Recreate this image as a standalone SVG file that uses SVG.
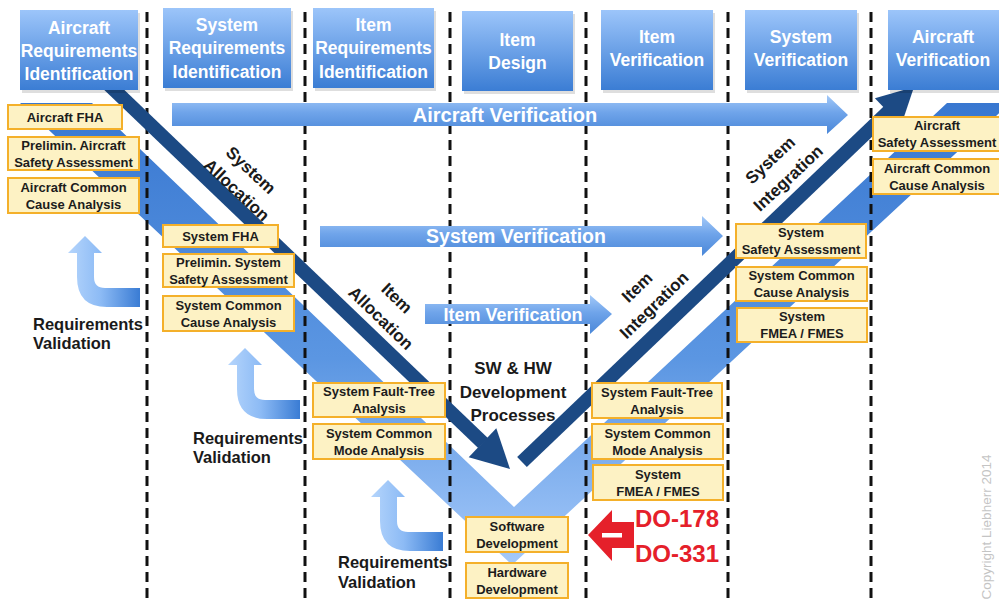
<svg xmlns="http://www.w3.org/2000/svg" width="999" height="601" viewBox="0 0 999 601">
<defs>
<style>
text{font-family:"Liberation Sans",Arial,sans-serif;font-weight:bold}
.hdr rect.b{fill:url(#gHdr)}
.hdr rect.s{fill:#000;opacity:.13}
.hdr text{fill:#fff;font-size:17.5px;text-anchor:middle}
.box rect{fill:#fdf2c4;stroke:#f4b02a;stroke-width:2}
.box text{fill:#1c1c1c;font-size:13px;text-anchor:middle}
.dash{stroke:#111;stroke-width:3;stroke-dasharray:10 6;fill:none}
.harr{fill:url(#gArr)}
.htxt{fill:#fff;text-anchor:middle}
.navy{stroke:#1c4a84;stroke-width:14;fill:none}
.navyh{fill:#1c4a84}
.lbl{fill:#1a1a1a;font-size:17px;text-anchor:middle}
.rv{fill:#1a1a1a;font-size:16.5px}
.red{fill:#e5202a}
</style>
<linearGradient id="gHdr" x1="0" y1="0" x2="0" y2="1"><stop offset="0" stop-color="#9cc5fa"/><stop offset="1" stop-color="#3b7dd4"/></linearGradient>
<linearGradient id="gBand" gradientUnits="userSpaceOnUse" x1="0" y1="100" x2="0" y2="570"><stop offset="0" stop-color="#3877d0"/><stop offset="0.55" stop-color="#5b96e2"/><stop offset="1" stop-color="#a6cafa"/></linearGradient>
<linearGradient id="gArr" x1="0" y1="0" x2="0" y2="1"><stop offset="0" stop-color="#a3c9f8"/><stop offset="0.45" stop-color="#6fa4ea"/><stop offset="1" stop-color="#4a87d8"/></linearGradient>
<linearGradient id="gCurve" x1="0" y1="0" x2="1" y2="0"><stop offset="0" stop-color="#b5d5fc"/><stop offset="0.45" stop-color="#8dbbf5"/><stop offset="1" stop-color="#3a7cd4"/></linearGradient>
<path id="curve" fill="url(#gCurve)" d="M0,0 L17,17 L9,17 L9,41 Q9,52 20,52 L55,52 L55,71 L22,71 Q-8,71 -8,41 L-8,17 L-17,17 Z"/>
</defs>

<rect width="999" height="601" fill="#fff"/>

<!-- V band -->
<path id="vband" fill="url(#gBand)" d="M20,103 L92,103 L514,507 L947,103 L1010,103 L512,565 Z"/>

<!-- phase separators -->
<g id="separators">
<line class="dash" x1="147" y1="12" x2="147" y2="601"/>
<line class="dash" x1="305" y1="12" x2="305" y2="601"/>
<line class="dash" x1="450" y1="12" x2="450" y2="601"/>
<line class="dash" x1="586" y1="12" x2="586" y2="601"/>
<line class="dash" x1="728" y1="12" x2="728" y2="601"/>
<line class="dash" x1="871" y1="12" x2="871" y2="601"/>
</g>

<g id="connectors">
<g id="aircraft-verification-arrow">
<path class="harr" d="M172,103 L827,103 L827,95 L848,115 L827,134 L827,126 L172,126 Z"/>
<text class="htxt" x="505" y="122" font-size="20">Aircraft Verification</text>
</g>
<g id="system-verification-arrow">
<path class="harr" d="M320,226 L702,226 L702,216 L723,236 L702,256 L702,247 L320,247 Z"/>
<text class="htxt" x="516" y="243" font-size="19.5">System Verification</text>
</g>
<g id="item-verification-arrow">
<path class="harr" d="M425,304 L590,304 L590,295 L612,314 L590,334 L590,324 L425,324 Z"/>
<text class="htxt" x="513" y="321" font-size="18">Item Verification</text>
</g>
<g id="system-allocation">
<line class="navy" x1="106" y1="82" x2="483" y2="443"/>
<polygon class="navyh" points="510,469 468.7,457.3 496.3,428.3"/>
</g>
<g id="system-integration">
<line class="navy" x1="522" y1="462" x2="889" y2="111"/>
<polygon class="navyh" points="914,87 901.1,125.6 874.9,98.2"/>
</g>
<use href="#curve" x="85" y="236"/>
<use href="#curve" x="245" y="348"/>
<use href="#curve" x="388" y="480"/>
</g>

<!-- arrow labels -->
<g id="labels">
<text class="lbl" transform="translate(251,170) rotate(43)" y="6">System</text>
<text class="lbl" transform="translate(237,190) rotate(43)" y="6">Allocation</text>
<text class="lbl" transform="translate(397,298) rotate(44)" y="6">Item</text>
<text class="lbl" transform="translate(381,318) rotate(44)" y="6">Allocation</text>
<text class="lbl" transform="translate(637,287) rotate(-44)" y="6">Item</text>
<text class="lbl" transform="translate(654,305) rotate(-44)" y="6">Integration</text>
<text class="lbl" transform="translate(770,160) rotate(-43)" y="6">System</text>
<text class="lbl" transform="translate(788,178) rotate(-43)" y="6">Integration</text>
<text class="lbl" font-size="18" x="513" y="374">SW &amp; HW</text>
<text class="lbl" font-size="18" x="513" y="398">Development</text>
<text class="lbl" font-size="18" x="513" y="421">Processes</text>
<text class="rv" x="33" y="330">Requirements</text>
<text class="rv" x="33" y="349">Validation</text>
<text class="rv" x="193" y="444">Requirements</text>
<text class="rv" x="193" y="463">Validation</text>
<text class="rv" x="338" y="568">Requirements</text>
<text class="rv" x="338" y="588">Validation</text>
</g>

<!-- header phases -->
<g id="hdr-aircraft-req" class="hdr"><rect class="s" x="22" y="13" width="118" height="80"/><rect class="b" x="20" y="10" width="118" height="80"/><text x="79" y="34">Aircraft</text><text x="79" y="57">Requirements</text><text x="79" y="80">Identification</text></g>
<g id="hdr-system-req" class="hdr"><rect class="s" x="165" y="11" width="128" height="80"/><rect class="b" x="163" y="8" width="128" height="80"/><text x="227" y="31">System</text><text x="227" y="54">Requirements</text><text x="227" y="78">Identification</text></g>
<g id="hdr-item-req" class="hdr"><rect class="s" x="315" y="11" width="121" height="80"/><rect class="b" x="313" y="8" width="121" height="80"/><text x="373.5" y="31">Item</text><text x="373.5" y="54">Requirements</text><text x="373.5" y="78">Identification</text></g>
<g id="hdr-item-design" class="hdr"><rect class="s" x="464" y="14" width="111" height="80"/><rect class="b" x="462" y="11" width="111" height="80"/><text x="517.5" y="46">Item</text><text x="517.5" y="69">Design</text></g>
<g id="hdr-item-verif" class="hdr"><rect class="s" x="603" y="13" width="112" height="80"/><rect class="b" x="601" y="10" width="112" height="80"/><text x="657" y="43">Item</text><text x="657" y="66">Verification</text></g>
<g id="hdr-system-verif" class="hdr"><rect class="s" x="747" y="13" width="112" height="80"/><rect class="b" x="745" y="10" width="112" height="80"/><text x="801" y="43">System</text><text x="801" y="66">Verification</text></g>
<g id="hdr-aircraft-verif" class="hdr"><rect class="s" x="890" y="13" width="118" height="80"/><rect class="b" x="888" y="10" width="118" height="80"/><text x="943" y="43">Aircraft</text><text x="943" y="66">Verification</text></g>

<!-- safety activity boxes -->
<g id="aircraft-fha" class="box"><rect x="8" y="105" width="114" height="24"/><text x="65" y="122">Aircraft FHA</text></g>
<g id="pasa" class="box"><rect x="8" y="137" width="131" height="33"/><text x="73.5" y="150">Prelimin. Aircraft</text><text x="73.5" y="167">Safety Assessment</text></g>
<g id="aircraft-cca" class="box"><rect x="8" y="178" width="131" height="35"/><text x="73.5" y="192">Aircraft Common</text><text x="73.5" y="209">Cause Analysis</text></g>
<g id="system-fha" class="box"><rect x="163" y="225" width="115" height="22"/><text x="220.5" y="241">System FHA</text></g>
<g id="pssa" class="box"><rect x="163" y="254" width="131" height="33"/><text x="228.5" y="267">Prelimin. System</text><text x="228.5" y="284">Safety Assessment</text></g>
<g id="system-cca-left" class="box"><rect x="163" y="296" width="131" height="35"/><text x="228.5" y="310">System Common</text><text x="228.5" y="327">Cause Analysis</text></g>
<g id="sfta-left" class="box"><rect x="313" y="383" width="132" height="34"/><text x="379" y="396">System Fault-Tree</text><text x="379" y="413">Analysis</text></g>
<g id="scma-left" class="box"><rect x="313" y="424" width="132" height="35"/><text x="379" y="438">System Common</text><text x="379" y="455">Mode Analysis</text></g>
<g id="sw-dev" class="box"><rect x="466" y="517" width="102" height="35"/><text x="517" y="531">Software</text><text x="517" y="548">Development</text></g>
<g id="hw-dev" class="box"><rect x="466" y="563" width="102" height="35"/><text x="517" y="577">Hardware</text><text x="517" y="594">Development</text></g>
<g id="sfta-right" class="box"><rect x="592" y="383" width="130" height="35"/><text x="657" y="397">System Fault-Tree</text><text x="657" y="414">Analysis</text></g>
<g id="scma-right" class="box"><rect x="592" y="424" width="131" height="35"/><text x="657.5" y="438">System Common</text><text x="657.5" y="455">Mode Analysis</text></g>
<g id="sfmea-item" class="box"><rect x="593" y="465" width="130" height="35"/><text x="658" y="479">System</text><text x="658" y="496">FMEA / FMES</text></g>
<g id="ssa" class="box"><rect x="736" y="224" width="130" height="34"/><text x="801" y="237">System</text><text x="801" y="254">Safety Assessment</text></g>
<g id="system-cca-right" class="box"><rect x="736" y="267" width="131" height="34"/><text x="801.5" y="280">System Common</text><text x="801.5" y="297">Cause Analysis</text></g>
<g id="sfmea-system" class="box"><rect x="737" y="308" width="130" height="34"/><text x="802" y="321">System</text><text x="802" y="338">FMEA / FMES</text></g>
<g id="asa" class="box"><rect x="873" y="117" width="135" height="34"/><text x="937" y="130">Aircraft</text><text x="937" y="147">Safety Assessment</text></g>
<g id="aircraft-cca-right" class="box"><rect x="873" y="159" width="135" height="35"/><text x="937" y="173">Aircraft Common</text><text x="937" y="190">Cause Analysis</text></g>

<!-- standards pointer -->
<g id="standards">
<path class="red" d="M588,535 L612,510 L612,522 L634,522 L634,548 L612,548 L612,561 Z"/>
<rect x="602" y="533" width="20" height="4.5" fill="#fff"/>
<text class="red" x="635" y="527" font-size="24">DO-178</text>
<text class="red" x="635" y="562" font-size="24">DO-331</text>
</g>

<text transform="translate(991,527) rotate(-90)" text-anchor="middle" font-size="13.5" fill="#c4c4c4" style="font-weight:normal">Copyright Liebherr 2014</text>
</svg>
